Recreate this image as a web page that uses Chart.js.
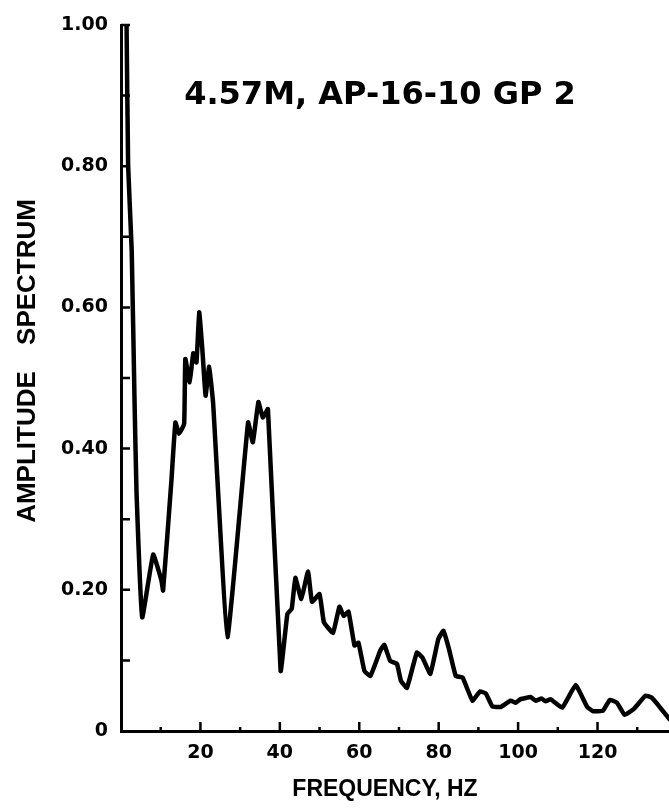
<!DOCTYPE html>
<html>
<head>
<meta charset="utf-8">
<script src="https://cdn.jsdelivr.net/npm/chart.js@4/dist/chart.umd.min.js"></script>
<style>
  html, body { margin: 0; padding: 0; background: #fff; }
  #chart { display: block; }
</style>
</head>
<body>
<canvas id="chart" width="669" height="808"></canvas>
<script>
// frequency (Hz) and amplitude values
const freqHz = [1.4, 1.8, 2.7, 3.4, 3.9, 5.35, 8.1, 10.2, 10.6, 12.7,
  13.7, 14.6, 15.9, 16.2, 17.3, 18.2, 19.0, 19.7, 20.5, 21.3,
  22.2, 23.2, 26.8, 32.0, 33.2, 34.6, 35.7, 37.0, 40.2, 41.9,
  43.0, 43.9, 45.4, 47.1, 48.1, 50.0, 51.1, 53.4, 55.0, 56.1,
  57.3, 58.8, 59.8, 61.3, 62.8, 65.3, 66.3, 67.8, 69.5, 70.5,
  72.0, 74.5, 75.9, 77.9, 79.9, 81.2, 82.6, 84.3, 86.0, 88.5,
  90.4, 91.9, 93.5, 95.6, 98.1, 99.4, 100.6, 103.2, 104.4, 105.9,
  106.9, 108.2, 111.1, 114.5, 117.4, 118.9, 121.4, 123.1, 124.9, 126.8,
  129.1, 132.1, 133.7, 135.8, 138.1];
const amplitude = [1.0, 0.80, 0.68, 0.47, 0.34, 0.161, 0.25, 0.213, 0.199, 0.355,
  0.437, 0.421, 0.435, 0.527, 0.494, 0.535, 0.522, 0.593, 0.539, 0.475,
  0.516, 0.464, 0.133, 0.437, 0.409, 0.466, 0.444, 0.456, 0.085, 0.166,
  0.173, 0.217, 0.187, 0.226, 0.183, 0.194, 0.154, 0.139, 0.176, 0.163,
  0.169, 0.121, 0.125, 0.085, 0.078, 0.114, 0.122, 0.099, 0.095, 0.071,
  0.061, 0.111, 0.104, 0.081, 0.130, 0.142, 0.116, 0.078, 0.076, 0.043,
  0.056, 0.053, 0.035, 0.034, 0.043, 0.040, 0.045, 0.048, 0.043, 0.046,
  0.042, 0.045, 0.033, 0.065, 0.034, 0.028, 0.029, 0.044, 0.040, 0.023,
  0.031, 0.050, 0.047, 0.033, 0.017];

const xTickValues = [20, 40, 60, 80, 100, 120];
const xMinorTicks = [10, 30, 50, 70, 90, 110, 130];
const yTickValues = [0, 0.2, 0.4, 0.6, 0.8, 1.0];
const yMinorTicks = [0.1, 0.3, 0.5, 0.7, 0.9];

const chartTitle = '4.57M, AP-16-10 GP 2';
const xTitle = 'FREQUENCY, HZ';
const yTitleWords = ['AMPLITUDE', 'SPECTRUM'];

const SANS = '"Liberation Sans", Arial, sans-serif';
const WIDE = '"DejaVu Sans", sans-serif';

const points = freqHz.map((f, i) => ({ x: f, y: amplitude[i] }));

// ticks pointing into the plot + lettered titles
const decorPlugin = {
  id: 'decor',
  afterDraw(chart) {
    const ctx = chart.ctx;
    const xs = chart.scales.x, ys = chart.scales.y;
    const area = chart.chartArea;
    ctx.save();
    ctx.strokeStyle = '#000';
    ctx.lineWidth = 2.5;
    ctx.beginPath();
    yTickValues.concat(yMinorTicks).forEach(v => {
      if (v === 0) return;
      const py = ys.getPixelForValue(v);
      ctx.moveTo(area.left, py);
      ctx.lineTo(area.left + 9, py);
    });
    xTickValues.forEach(v => {
      const px = xs.getPixelForValue(v);
      ctx.moveTo(px, area.bottom);
      ctx.lineTo(px, area.bottom - 9);
    });
    xMinorTicks.forEach(v => {
      const px = xs.getPixelForValue(v);
      ctx.moveTo(px, area.bottom);
      ctx.lineTo(px, area.bottom - 4);
    });
    ctx.stroke();

    ctx.fillStyle = '#000';
    ctx.textAlign = 'center';
    ctx.textBaseline = 'middle';

    ctx.font = 'bold 32px ' + WIDE;
    ctx.fillText(chartTitle, 380, 96);

    ctx.font = 'bold 23px ' + SANS;
    ctx.fillText(xTitle, 385, 790);

    // vertical title, read bottom to top
    ctx.translate(28, 0);
    ctx.rotate(-Math.PI / 2);
    ctx.font = 'bold 26px ' + SANS;
    ctx.fillText(yTitleWords[0], -447, 0);
    ctx.fillText(yTitleWords[1], -272, 0);
    ctx.restore();
  }
};

new Chart(document.getElementById('chart'), {
  type: 'line',
  data: {
    datasets: [{
      data: points,
      borderColor: '#000',
      borderWidth: 4.5,
      borderJoinStyle: 'round',
      borderCapStyle: 'round',
      pointRadius: 0,
      tension: 0.1,
      fill: false
    }]
  },
  options: {
    responsive: false,
    animation: false,
    devicePixelRatio: 1,
    layout: { padding: { top: 25, right: 0, left: 0, bottom: 0 } },
    plugins: {
      legend: { display: false },
      title: { display: false },
      tooltip: { enabled: false }
    },
    scales: {
      x: {
        type: 'linear',
        min: 0,
        max: 138,
        afterFit: s => { s.height = 77; },
        afterBuildTicks: s => { s.ticks = xTickValues.map(v => ({ value: v })); },
        border: { display: true, color: '#000', width: 3 },
        grid: { display: true, drawOnChartArea: false, drawTicks: false },
        ticks: {
          color: '#000',
          padding: 11,
          maxRotation: 0,
          font: { family: WIDE, size: 19, weight: 'bold' }
        }
      },
      y: {
        type: 'linear',
        min: 0,
        max: 1,
        afterFit: s => { s.width = 121; },
        afterBuildTicks: s => { s.ticks = yTickValues.map(v => ({ value: v })); },
        border: { display: true, color: '#000', width: 3 },
        grid: { display: true, drawOnChartArea: false, drawTicks: false },
        ticks: {
          color: '#000',
          padding: 13,
          font: { family: WIDE, size: 19, weight: 'bold' },
          callback: v => v === 0 ? '0' : v.toFixed(2)
        }
      }
    }
  },
  plugins: [decorPlugin]
});
</script>
</body>
</html>
